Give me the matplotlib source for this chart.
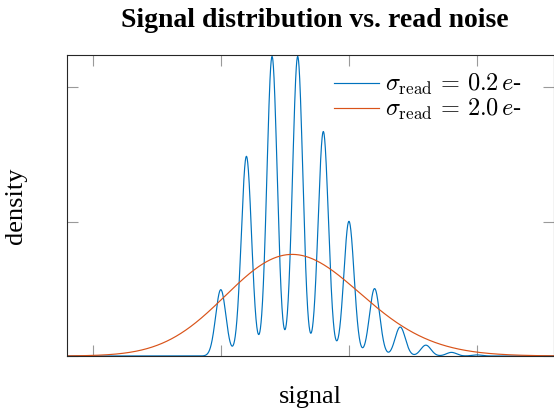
import numpy as np
import matplotlib
matplotlib.use("Agg")
import matplotlib.pyplot as plt

# Discrete signal levels (electrons) and their probabilities, read from the peaks
levels = [5, 6, 7, 8, 9, 10, 11, 12, 13, 14, 15]
probs = [0.0495, 0.1490, 0.2235, 0.2235, 0.1675, 0.1005, 0.0503, 0.0216, 0.0081, 0.0027, 0.0008]
read_noise = [0.2, 2.0]
labels = [r"$\sigma_{\mathrm{read}}\,=\,0.2\,e$-", r"$\sigma_{\mathrm{read}}\,=\,2.0\,e$-"]
colors = ["#0072BD", "#D95319"]
x_ticks = [0, 5, 10, 15]
y_ticks = [0, 0.2, 0.4]

plt.rcParams["font.family"] = ["Liberation Serif", "DejaVu Serif"]
plt.rcParams["mathtext.fontset"] = "cm"

fig = plt.figure(figsize=(5.54, 4.12), dpi=100)
ax = fig.add_axes([67 / 554, 1 - 356 / 412, 487 / 554, 301 / 412])

x = np.linspace(-1, 18, 3000)
lv = np.array(levels, dtype=float)
pr = np.array(probs)
for s, lab, c in zip(read_noise, labels, colors):
    dens = (pr[None, :] * np.exp(-0.5 * ((x[:, None] - lv[None, :]) / s) ** 2)
            / (s * np.sqrt(2 * np.pi))).sum(axis=1)
    ax.plot(x, dens, color=c, lw=0.85, label=lab)

ax.set_xlim(-1, 18)
ax.set_ylim(0, 0.448)
ax.set_xticks(x_ticks)
ax.set_yticks(y_ticks)
ax.set_xticklabels([])
ax.set_yticklabels([])
ax.tick_params(direction="in", length=8, width=0.8, color="#9a9a9a",
               top=True, right=True)
for sp in ax.spines.values():
    sp.set_color("#262626")
    sp.set_linewidth(0.8)

ax.set_title("Signal distribution vs. read noise", fontsize=20, fontweight="bold",
             pad=20, x=(315 - 67) / 487)
ax.set_xlabel("signal", fontsize=19, labelpad=18)
ax.set_ylabel("density", fontsize=19, labelpad=25)

leg = ax.legend(loc="upper right", frameon=False, fontsize=17.5, handlelength=1.85,
                handletextpad=0.25, labelspacing=0.0, borderaxespad=0.3,
                bbox_to_anchor=(0.97, 1.0))

fig.savefig("out.png", dpi=100)
